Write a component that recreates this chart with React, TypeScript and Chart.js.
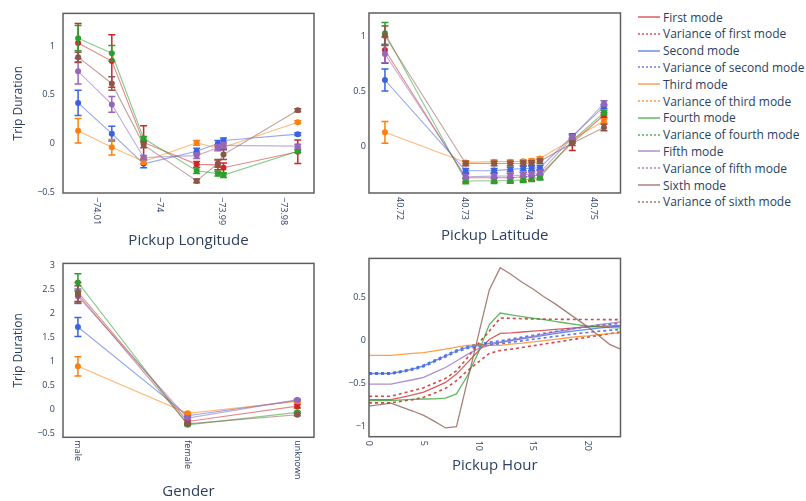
import React, { useEffect, useRef } from "react";
import { Chart, registerables } from "chart.js";

Chart.register(...registerables);

const FONT = '"Open Sans", "Noto Sans", "DejaVu Sans", sans-serif';
const INK = "#2a3f5f";
const FRAME = "#5f5f5f";

const modeNames = ["First mode", "Second mode", "Third mode", "Fourth mode", "Fifth mode", "Sixth mode"];
const modeRgb = ["204,40,40", "59,98,224", "255,127,14", "44,160,44", "148,103,189", "140,86,75"];

// Pickup longitude
const lonX = [-74.013, -74.0076, -74.0025, -73.994, -73.9906, -73.9897, -73.9778];
const lonMeans = [
  [1.03, 0.845, 0.01, -0.215, -0.22, -0.25, -0.085],
  [0.415, 0.1, -0.21, -0.08, 0.0, 0.03, 0.095],
  [0.13, -0.04, -0.185, 0.006, -0.05, -0.04, 0.218],
  [1.08, 0.925, 0.05, -0.28, -0.31, -0.325, -0.08],
  [0.74, 0.4, -0.145, -0.125, -0.045, -0.02, -0.028],
  [0.885, 0.615, -0.015, -0.385, -0.205, -0.115, 0.341],
];
const lonErrors = [
  [0.2, 0.27, 0.17, 0.03, 0.05, 0.05, 0.12],
  [0.13, 0.075, 0.04, 0.03, 0.03, 0.025, 0.015],
  [0.125, 0.08, 0.03, 0.025, 0.02, 0.02, 0.015],
  [0.13, 0.08, 0.02, 0.03, 0.025, 0.025, 0.015],
  [0.13, 0.08, 0.02, 0.03, 0.03, 0.03, 0.02],
  [0.05, 0.07, 0.03, 0.02, 0.04, 0.05, 0.015],
];
const lonTicks = [-74.01, -74, -73.99, -73.98];
const lonYTicks = [-0.5, 0, 0.5, 1];

// Pickup latitude
const latX = [40.7177, 40.7302, 40.7346, 40.7371, 40.7391, 40.7404, 40.7417, 40.7467, 40.7516];
const latMeans = [
  [0.878, -0.29, -0.29, -0.29, -0.282, -0.275, -0.265, 0.03, 0.284],
  [0.604, -0.226, -0.225, -0.214, -0.206, -0.204, -0.198, 0.091, 0.36],
  [0.125, -0.15, -0.143, -0.143, -0.14, -0.135, -0.115, 0.061, 0.229],
  [1.031, -0.32, -0.318, -0.315, -0.31, -0.3, -0.285, 0.048, 0.305],
  [0.842, -0.281, -0.276, -0.274, -0.265, -0.256, -0.244, 0.08, 0.39],
  [1.009, -0.16, -0.16, -0.16, -0.158, -0.155, -0.14, 0.025, 0.17],
];
const latErrors = [
  [0.12, 0.04, 0.04, 0.04, 0.04, 0.04, 0.04, 0.07, 0.02],
  [0.1, 0.02, 0.02, 0.02, 0.02, 0.02, 0.02, 0.02, 0.02],
  [0.1, 0.015, 0.015, 0.015, 0.015, 0.015, 0.015, 0.02, 0.02],
  [0.1, 0.025, 0.025, 0.025, 0.025, 0.025, 0.025, 0.02, 0.02],
  [0.08, 0.02, 0.02, 0.02, 0.02, 0.02, 0.02, 0.02, 0.025],
  [0.09, 0.02, 0.02, 0.02, 0.02, 0.02, 0.02, 0.02, 0.03],
];
const latTicks = [40.72, 40.73, 40.74, 40.75];
const latYTicks = [0, 0.5, 1];

// Gender
const genderCategories = ["male", "female", "unknown"];
const genderX = [0, 1, 2];
const genderMeans = [
  [2.45, -0.25, 0.07],
  [1.72, -0.13, 0.19],
  [0.9, -0.08, 0.17],
  [2.65, -0.32, -0.06],
  [2.36, -0.18, 0.2],
  [2.4, -0.3, -0.11],
];
const genderErrors = [
  [0.2, 0.03, 0.04],
  [0.2, 0.02, 0.02],
  [0.2, 0.02, 0.02],
  [0.18, 0.02, 0.02],
  [0.15, 0.02, 0.02],
  [0.18, 0.02, 0.02],
];
const genderYTicks = [-0.5, 0, 0.5, 1, 1.5, 2, 2.5, 3];

// Pickup hour
const hours = [0, 1, 2, 3, 4, 5, 6, 7, 8, 9, 10, 11, 12, 13, 14, 15, 16, 17, 18, 19, 20, 21, 22, 23];
const hourMeans = [
  [-0.687, -0.687, -0.687, -0.66, -0.633, -0.6, -0.545, -0.487, -0.39, -0.256, -0.121, 0.013, 0.083, 0.09, 0.1, 0.11, 0.12, 0.13, 0.14, 0.15, 0.16, 0.165, 0.17, 0.175],
  [-0.383, -0.383, -0.383, -0.36, -0.333, -0.294, -0.237, -0.179, -0.121, -0.079, -0.056, -0.033, -0.02, 0.0, 0.02, 0.04, 0.06, 0.08, 0.1, 0.115, 0.13, 0.145, 0.158, 0.17],
  [-0.171, -0.171, -0.171, -0.16, -0.15, -0.14, -0.12, -0.1, -0.075, -0.056, -0.05, -0.055, -0.056, -0.04, -0.03, -0.015, 0.0, 0.015, 0.03, 0.045, 0.055, 0.07, 0.08, 0.09],
  [-0.698, -0.698, -0.698, -0.69, -0.685, -0.68, -0.678, -0.671, -0.621, -0.41, -0.14, 0.186, 0.321, 0.3, 0.28, 0.26, 0.245, 0.225, 0.205, 0.185, 0.167, 0.16, 0.152, 0.148],
  [-0.506, -0.506, -0.506, -0.48, -0.456, -0.429, -0.371, -0.313, -0.237, -0.16, -0.094, -0.056, -0.017, 0.005, 0.03, 0.05, 0.075, 0.1, 0.12, 0.145, 0.165, 0.185, 0.2, 0.217],
  [-0.763, -0.745, -0.729, -0.775, -0.82, -0.871, -0.94, -1.017, -1.002, -0.47, 0.06, 0.59, 0.848, 0.77, 0.68, 0.6, 0.51, 0.43, 0.34, 0.25, 0.16, 0.06, -0.044, -0.1],
];
const hourFirstUpper = [-0.648, -0.648, -0.648, -0.615, -0.583, -0.548, -0.494, -0.44, -0.352, -0.198, -0.033, 0.11, 0.263, 0.26, 0.255, 0.252, 0.25, 0.248, 0.247, 0.246, 0.245, 0.245, 0.244, 0.244];
const hourFirstLower = [-0.725, -0.725, -0.725, -0.705, -0.687, -0.66, -0.61, -0.556, -0.467, -0.35, -0.25, -0.15, -0.115, -0.1, -0.08, -0.06, -0.04, -0.02, 0.0, 0.02, 0.04, 0.06, 0.08, 0.1];
const hourSecondUpper = [-0.375, -0.375, -0.375, -0.351, -0.323, -0.283, -0.226, -0.167, -0.109, -0.066, -0.042, -0.018, -0.003, 0.018, 0.04, 0.062, 0.084, 0.106, 0.128, 0.145, 0.162, 0.178, 0.19, 0.2];
const hourSecondLower = [-0.391, -0.391, -0.391, -0.369, -0.343, -0.305, -0.248, -0.191, -0.133, -0.092, -0.07, -0.048, -0.037, -0.02, -0.003, 0.015, 0.032, 0.048, 0.065, 0.08, 0.095, 0.108, 0.12, 0.13];
const hourTicks = [0, 5, 10, 15, 20];
const hourYTicks = [-1, -0.5, 0, 0.5];

const rgba = (m: number, a: number) => `rgba(${modeRgb[m]},${a})`;
const fmt = (v: number) => (v < 0 ? "\u2212" : "") + String(Math.abs(v));

function markerSeries(xs: number[], means: number[][], errors: number[][]) {
  return means.map((ys, m) => ({
    label: modeNames[m],
    data: xs.map((x, i) => ({ x, y: ys[i] })),
    errorBars: errors[m],
    borderColor: rgba(m, 0.55),
    backgroundColor: rgba(m, 1),
    pointBackgroundColor: rgba(m, 1),
    pointBorderWidth: 0,
    pointRadius: 3,
    borderWidth: 1.1,
    tension: 0,
    order: means.length - m,
  }));
}

function hourLine(label: string, m: number, ys: number[], dashed: boolean) {
  return {
    label,
    data: hours.map((h, i) => ({ x: h, y: ys[i] })),
    borderColor: rgba(m, dashed ? 0.85 : 0.75),
    borderWidth: dashed ? 1.6 : 1.3,
    borderDash: dashed ? [3, 3] : [],
    pointRadius: 0,
    tension: 0,
  };
}

const hourDatasets = [
  hourLine(modeNames[0], 0, hourMeans[0], false),
  hourLine("Variance of first mode", 0, hourFirstUpper, true),
  hourLine("Variance of first mode", 0, hourFirstLower, true),
  hourLine(modeNames[1], 1, hourMeans[1], false),
  hourLine("Variance of second mode", 1, hourSecondUpper, true),
  hourLine("Variance of second mode", 1, hourSecondLower, true),
  hourLine(modeNames[2], 2, hourMeans[2], false),
  hourLine(modeNames[3], 3, hourMeans[3], false),
  hourLine(modeNames[4], 4, hourMeans[4], false),
  hourLine(modeNames[5], 5, hourMeans[5], false),
].map((d, i, arr) => ({ ...d, order: arr.length - i }));

// Vertical error bars with caps, drawn right after their own series
const errorBarPlugin = {
  id: "errorBars",
  afterDatasetDraw(chart: any, args: any) {
    const ds = chart.data.datasets[args.index];
    if (!ds.errorBars) return;
    const xs = chart.scales.x;
    const ys = chart.scales.y;
    const ctx = chart.ctx;
    ctx.save();
    ctx.strokeStyle = ds.pointBackgroundColor;
    ctx.lineWidth = 1.5;
    ds.data.forEach((p: any, i: number) => {
      const e = ds.errorBars[i];
      const px = xs.getPixelForValue(p.x);
      const t = ys.getPixelForValue(p.y + e);
      const b = ys.getPixelForValue(p.y - e);
      ctx.beginPath();
      ctx.moveTo(px, t);
      ctx.lineTo(px, b);
      ctx.moveTo(px - 3.5, t);
      ctx.lineTo(px + 3.5, t);
      ctx.moveTo(px - 3.5, b);
      ctx.lineTo(px + 3.5, b);
      ctx.stroke();
    });
    ctx.restore();
  },
};

// Box around the plotting area
const framePlugin = {
  id: "frame",
  afterDraw(chart: any) {
    const { left, top, right, bottom } = chart.chartArea;
    const ctx = chart.ctx;
    ctx.save();
    ctx.strokeStyle = FRAME;
    ctx.lineWidth = 1.5;
    ctx.strokeRect(left, top, right - left, bottom - top);
    ctx.restore();
  },
};

// X tick labels turned a quarter turn clockwise
const xTickPlugin = {
  id: "xTickLabels",
  afterDraw(chart: any, _args: any, opts: any) {
    const xs = chart.scales.x;
    const ctx = chart.ctx;
    const y0 = chart.chartArea.bottom + opts.gap;
    ctx.save();
    ctx.fillStyle = INK;
    ctx.font = `9px ${FONT}`;
    ctx.textAlign = "left";
    ctx.textBaseline = "middle";
    opts.ticks.forEach((v: number, i: number) => {
      const px = xs.getPixelForValue(v);
      ctx.save();
      ctx.translate(px, y0);
      ctx.rotate(Math.PI / 2);
      ctx.fillText(opts.labels[i], 0, 0);
      ctx.restore();
    });
    ctx.restore();
  },
};

type PanelSpec = {
  left: number;
  top: number;
  width: number;
  height: number;
  padding: { top: number; right: number; bottom: number; left: number };
  yAxisWidth: number;
  xAxisHeight: number;
  xMin: number;
  xMax: number;
  yMin: number;
  yMax: number;
  xTicks: number[];
  xLabels: string[];
  xGap: number;
  yTicks: number[];
  yTickPad: number;
  xTitle: string;
  xTitlePad: number;
  yTitle?: string;
  datasets: any[];
};

function Panel({ spec }: { spec: PanelSpec }) {
  const ref = useRef<HTMLCanvasElement>(null);
  useEffect(() => {
    const chart = new Chart(ref.current as HTMLCanvasElement, {
      type: "line",
      data: { datasets: spec.datasets },
      options: {
        responsive: false,
        animation: false,
        events: [],
        layout: { padding: spec.padding },
        plugins: {
          legend: { display: false },
          tooltip: { enabled: false },
          xTickLabels: { ticks: spec.xTicks, labels: spec.xLabels, gap: spec.xGap },
        } as any,
        scales: {
          x: {
            type: "linear",
            min: spec.xMin,
            max: spec.xMax,
            bounds: "data",
            grid: { display: false, drawTicks: false },
            border: { display: false },
            ticks: { display: false },
            afterBuildTicks: (s: any) => {
              s.ticks = spec.xTicks.map((v) => ({ value: v }));
            },
            afterFit: (s: any) => {
              s.height = spec.xAxisHeight;
            },
            title: {
              display: true,
              text: spec.xTitle,
              color: INK,
              font: { family: FONT, size: 15 },
              padding: { top: 0, bottom: spec.xTitlePad },
            },
          },
          y: {
            type: "linear",
            position: "left",
            min: spec.yMin,
            max: spec.yMax,
            bounds: "data",
            grid: { display: false, drawTicks: false },
            border: { display: false },
            ticks: {
              color: INK,
              font: { family: FONT, size: 9 },
              padding: spec.yTickPad,
              callback: (v: any) => fmt(Number(v)),
            },
            afterBuildTicks: (s: any) => {
              s.ticks = spec.yTicks.map((v) => ({ value: v }));
            },
            afterFit: (s: any) => {
              s.width = spec.yAxisWidth;
            },
            title: {
              display: !!spec.yTitle,
              text: spec.yTitle || "",
              color: INK,
              font: { family: FONT, size: 12 },
              padding: { top: 11, bottom: 0 },
            },
          },
        },
      } as any,
      plugins: [errorBarPlugin, framePlugin, xTickPlugin],
    });
    return () => chart.destroy();
  }, [spec]);
  return (
    <canvas
      ref={ref}
      width={spec.width}
      height={spec.height}
      style={{ position: "absolute", left: spec.left, top: spec.top, width: spec.width, height: spec.height }}
    />
  );
}

const panels: PanelSpec[] = [
  {
    left: 0, top: 0, width: 318, height: 250,
    padding: { top: 13, right: 3, bottom: 0, left: 0 },
    yAxisWidth: 63, xAxisHeight: 57,
    xMin: -74.01542, xMax: -73.9752, yMin: -0.509, yMax: 1.334,
    xTicks: lonTicks, xLabels: lonTicks.map(fmt), xGap: 4,
    yTicks: lonYTicks, yTickPad: 8,
    xTitle: "Pickup Longitude", xTitlePad: 0, yTitle: "Trip Duration",
    datasets: markerSeries(lonX, lonMeans, lonErrors),
  },
  {
    left: 320, top: 0, width: 305, height: 250,
    padding: { top: 13, right: 4.5, bottom: 0, left: 0 },
    yAxisWidth: 49, xAxisHeight: 57,
    xMin: 40.71523, xMax: 40.75416, yMin: -0.43, yMax: 1.217,
    xTicks: latTicks, xLabels: latTicks.map(fmt), xGap: 4,
    yTicks: latYTicks, yTickPad: 3,
    xTitle: "Pickup Latitude", xTitlePad: 5.6,
    datasets: markerSeries(latX, latMeans, latErrors),
  },
  {
    left: 0, top: 250, width: 318, height: 251,
    padding: { top: 6, right: 3, bottom: 0, left: 0 },
    yAxisWidth: 63, xAxisHeight: 63.7,
    xMin: -0.136, xMax: 2.152, yMin: -0.58, yMax: 3.046,
    xTicks: genderX, xLabels: genderCategories, xGap: 3,
    yTicks: genderYTicks, yTickPad: 8,
    xTitle: "Gender", xTitlePad: 0, yTitle: "Trip Duration",
    datasets: markerSeries(genderX, genderMeans, genderErrors),
  },
  {
    left: 320, top: 250, width: 305, height: 251,
    padding: { top: 6.7, right: 4.5, bottom: 0, left: 0 },
    yAxisWidth: 49, xAxisHeight: 64.3,
    xMin: 0, xMax: 23, yMin: -1.119, yMax: 0.957,
    xTicks: hourTicks, xLabels: hourTicks.map(fmt), xGap: 4,
    yTicks: hourYTicks, yTickPad: 3,
    xTitle: "Pickup Hour", xTitlePad: 26.6,
    datasets: hourDatasets,
  },
];

const legendItems = modeNames.flatMap((name, m) => [
  { label: name, mode: m, dotted: false },
  { label: "Variance of " + name.replace(" mode", "").toLowerCase() + " mode", mode: m, dotted: true },
]);

function Legend() {
  return (
    <>
      {legendItems.map((it, i) => (
        <div
          key={i}
          style={{
            position: "absolute",
            left: 637,
            top: 17 + i * 16.8 - 8.4,
            height: 16.8,
            display: "flex",
            alignItems: "center",
            whiteSpace: "nowrap",
            fontFamily: FONT,
            fontSize: 12,
            color: INK,
          }}
        >
          <svg width={26} height={6} style={{ display: "block" }}>
            <line
              x1={1}
              y1={3}
              x2={23}
              y2={3}
              stroke={rgba(it.mode, 0.8)}
              strokeWidth={it.dotted ? 1.3 : 1.4}
              strokeDasharray={it.dotted ? "2,2" : undefined}
            />
          </svg>
          <span>{it.label}</span>
        </div>
      ))}
    </>
  );
}

export default function App() {
  return (
    <div
      style={{
        position: "absolute",
        left: 0,
        top: 0,
        width: 806,
        height: 501,
        background: "#ffffff",
        overflow: "hidden",
      }}
    >
      {panels.map((p, i) => (
        <Panel key={i} spec={p} />
      ))}
      <Legend />
    </div>
  );
}
